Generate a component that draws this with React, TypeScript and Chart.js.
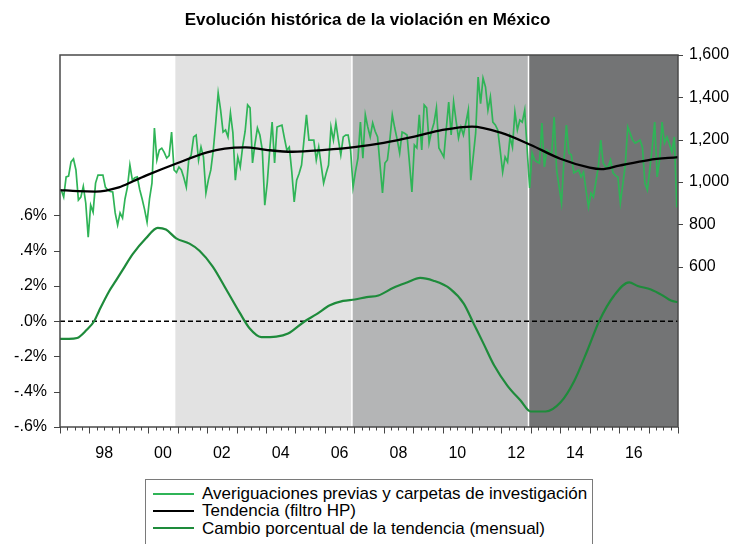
import React, { useEffect, useRef } from "react";
import { Chart, registerables } from "chart.js";

Chart.register(...registerables);

// ---------------- DATA ----------------
const START_YEAR = 1997; // monthly series, Jan 1997 - Dec 2017

// Averiguaciones previas y carpetas de investigación (monthly, right axis)
const averiguaciones = [
  962, 929, 1024, 1028, 1095, 1109, 1057, 915, 929, 980, 901, 740, // 1997
  891, 858, 995, 1033, 1033, 1033, 976, 962, 955, 953, 854, 797, // 1998
  854, 830, 920, 976, 1080, 1009, 1020, 1024, 965, 920, 870, 811, // 1999
  920, 995, 1255, 1104, 1151, 1160, 1140, 1113, 1125, 1236, 1057, 1045, // 2000
  1071, 1057, 1020, 976, 1104, 1128, 1213, 1222, 1104, 1165, 1118, 948, // 2001
  1010, 1057, 1151, 1280, 1420, 1340, 1236, 1246, 1213, 1326, 1232, 1009, // 2002
  1118, 1071, 1170, 1240, 1364, 1350, 1090, 1180, 1255, 1222, 1151, 891, // 2003
  995, 1150, 1283, 1090, 1260, 1265, 1269, 1208, 1151, 1165, 1050, 906, // 2004
  1009, 1040, 1080, 1200, 1317, 1198, 1198, 1198, 1104, 1165, 1080, 995, // 2005
  1040, 1080, 1260, 1198, 1279, 1200, 1128, 1213, 1222, 1222, 1151, 976, // 2006
  1050, 1113, 1283, 1113, 1317, 1260, 1213, 1279, 1240, 1213, 1080, 948, // 2007
  1090, 1104, 1200, 1317, 1255, 1200, 1137, 1236, 1230, 1222, 1090, 953, // 2008
  1175, 1161, 1317, 1151, 1364, 1350, 1184, 1240, 1279, 1350, 1161, 1140, // 2009
  1118, 1250, 1378, 1222, 1378, 1290, 1208, 1260, 1222, 1280, 1340, 1009, // 2010
  1120, 1232, 1496, 1370, 1491, 1449, 1340, 1402, 1283, 1270, 1246, 1150, // 2011
  1047, 1118, 1095, 1213, 1165, 1331, 1246, 1293, 1283, 1340, 1151, 972, // 2012
  1137, 1104, 1095, 1090, 1279, 1071, 1151, 1140, 1137, 1307, 1057, 980, // 2013
  901, 1104, 1269, 1137, 1128, 1043, 1050, 1057, 1024, 1047, 960, 882, // 2014
  948, 929, 1000, 1071, 1198, 1090, 1071, 1071, 1104, 1043, 1030, 1024, // 2015
  901, 990, 1080, 1260, 1230, 1198, 1184, 1190, 1198, 1165, 995, 962, // 2016
  1060, 1165, 1283, 1024, 1104, 1283, 1184, 1213, 1180, 1142, 1213, 880, // 2017
];

// Tendencia (filtro HP) – read at these dates (right axis)
const trendDates = [
  1997.0, 1997.6, 1998.2, 1999.0, 1999.5, 2000.0, 2001.0, 2002.0, 2002.6, 2003.3,
  2004.0, 2004.9, 2006.0, 2007.0, 2008.0, 2009.0, 2010.0, 2011.0, 2012.0, 2013.0,
  2014.0, 2015.0, 2015.4, 2016.0, 2017.0, 2018.0,
];
const trendValues = [
  962, 957, 955, 975, 1005, 1035, 1090, 1140, 1158, 1164,
  1152, 1143, 1152, 1165, 1185, 1213, 1246, 1262, 1232, 1175,
  1110, 1068, 1061, 1078, 1104, 1118,
];

// Cambio porcentual de la tendencia (mensual), in % (left axis)
const pctDates = [
  1997.0, 1997.3, 1997.58, 1997.9, 1998.16, 1998.33, 1998.67, 1998.9, 1999.2, 1999.47,
  1999.92, 2000.32, 2000.6, 2000.95, 2001.4, 2001.74, 2002.19, 2002.65, 2003.1, 2003.44,
  2003.84, 2004.35, 2004.75, 2005.32, 2005.72, 2006.17, 2006.62, 2007.02, 2007.42, 2007.82,
  2008.33, 2008.79, 2009.24, 2009.69, 2010.26, 2010.72, 2011.06, 2011.4, 2011.75, 2012.2,
  2012.65, 2012.99, 2013.5, 2014.01, 2014.47, 2014.92, 2015.32, 2015.83, 2016.34, 2016.63,
  2017.08, 2017.48, 2017.76, 2017.99,
];
const pctValues = [
  -0.1, -0.1, -0.095, -0.05, 0.0, 0.06, 0.17, 0.23, 0.31, 0.38,
  0.47, 0.53, 0.52, 0.47, 0.44, 0.4, 0.31, 0.18, 0.05, -0.04,
  -0.09, -0.087, -0.07, 0.0, 0.04, 0.09, 0.115, 0.123, 0.137, 0.146,
  0.19, 0.22, 0.246, 0.23, 0.184, 0.1, -0.015, -0.13, -0.25, -0.365,
  -0.45, -0.512, -0.512, -0.46, -0.34, -0.166, 0.0, 0.146, 0.22, 0.2,
  0.18, 0.146, 0.117, 0.108,
];

// Shaded periods (sexenios)
const periodStarts = [1997.0, 2000.92, 2006.92, 2012.92];
const periodColors = ["#ffffff", "#e2e2e2", "#b4b5b6", "#737475"];

// Axis ticks
const xLabelYears = [1998, 2000, 2002, 2004, 2006, 2008, 2010, 2012, 2014, 2016];
const xLabels = ["98", "00", "02", "04", "06", "08", "10", "12", "14", "16"];
const pctTicks = [-0.6, -0.4, -0.2, 0, 0.2, 0.4, 0.6];
const pctLabels = ["-.6%", "-.4%", "-.2%", ".0%", ".2%", ".4%", ".6%"];
const levelTicks = [600, 800, 1000, 1200, 1400, 1600];
const levelLabels = ["600", "800", "1,000", "1,200", "1,400", "1,600"];

const TITLE = "Evolución histórica de la violación en México";
const LEGEND = [
  { label: "Averiguaciones previas y carpetas de investigación", color: "#2fb457" },
  { label: "Tendencia (filtro HP)", color: "#000000" },
  { label: "Cambio porcentual de la tendencia (mensual)", color: "#1e8b3b" },
];

const FONT = "'Liberation Sans', Arial, Helvetica, sans-serif";

const eviewsPlugin = {
  id: "eviewsDecor",
  beforeDatasetsDraw(chart: any) {
    const { ctx, chartArea: a, scales } = chart;
    const x = scales.x;
    ctx.save();
    for (let i = 0; i < periodStarts.length; i++) {
      const x0 = Math.max(a.left, x.getPixelForValue(periodStarts[i]));
      const x1 = i + 1 < periodStarts.length ? x.getPixelForValue(periodStarts[i + 1]) : a.right;
      ctx.fillStyle = periodColors[i];
      ctx.fillRect(x0, a.top, x1 - x0, a.bottom - a.top);
    }
    ctx.strokeStyle = "#ffffff";
    ctx.lineWidth = 1.5;
    for (let i = 2; i < periodStarts.length; i++) {
      const px = x.getPixelForValue(periodStarts[i]);
      ctx.beginPath();
      ctx.moveTo(px, a.top);
      ctx.lineTo(px, a.bottom);
      ctx.stroke();
    }
    const y0 = scales.yL.getPixelForValue(0);
    ctx.setLineDash([5, 3]);
    ctx.strokeStyle = "#000";
    ctx.lineWidth = 1.5;
    ctx.beginPath();
    ctx.moveTo(a.left, y0);
    ctx.lineTo(a.right, y0);
    ctx.stroke();
    ctx.restore();
  },
  afterDraw(chart: any) {
    const { ctx, chartArea: a, scales } = chart;
    ctx.save();
    ctx.strokeStyle = "#4a4a4a";
    ctx.lineWidth = 1.5;
    ctx.strokeRect(a.left, a.top, a.right - a.left, a.bottom - a.top);
    ctx.lineWidth = 1;
    ctx.strokeStyle = "#444";
    // x ticks: quarterly minor, yearly major
    const x = scales.x;
    for (let y = Math.ceil(x.min); y <= x.max; y++) {
      for (let q = 0; q < 4; q++) {
        const v = y + q / 4;
        if (v > x.max) break;
        const px = Math.round(x.getPixelForValue(v)) + 0.5;
        const len = q === 0 ? 6.5 : 3.5;
        ctx.beginPath();
        ctx.moveTo(px, a.bottom);
        ctx.lineTo(px, a.bottom + len);
        ctx.stroke();
      }
    }
    for (const v of pctTicks) {
      const py = Math.round(scales.yL.getPixelForValue(v)) + 0.5;
      ctx.beginPath();
      ctx.moveTo(a.left, py);
      ctx.lineTo(a.left - 6, py);
      ctx.stroke();
    }
    for (const v of levelTicks) {
      const py = Math.round(scales.yR.getPixelForValue(v)) + 0.5;
      ctx.beginPath();
      ctx.moveTo(a.right, py);
      ctx.lineTo(a.right + 5, py);
      ctx.stroke();
    }
    ctx.restore();
  },
};

export default function App() {
  const canvasRef = useRef<HTMLCanvasElement | null>(null);

  useEffect(() => {
    if (!canvasRef.current) return;
    Chart.defaults.font.family = FONT;
    Chart.defaults.color = "#000";

    const levelData = averiguaciones.map((v, i) => ({ x: START_YEAR + (i + 0.5) / 12, y: v }));
    const trendData = trendDates.map((d, i) => ({ x: d, y: trendValues[i] }));
    const pctData = pctDates.map((d, i) => ({ x: d, y: pctValues[i] }));

    const chart = new Chart(canvasRef.current, {
      type: "line",
      data: {
        datasets: [
          {
            label: LEGEND[1].label,
            data: trendData,
            yAxisID: "yR",
            borderColor: LEGEND[1].color,
            borderWidth: 2.3,
            pointRadius: 0,
            cubicInterpolationMode: "monotone",
            order: 0,
          },
          {
            label: LEGEND[2].label,
            data: pctData,
            yAxisID: "yL",
            borderColor: LEGEND[2].color,
            borderWidth: 2.2,
            pointRadius: 0,
            cubicInterpolationMode: "monotone",
            order: 1,
          },
          {
            label: LEGEND[0].label,
            data: levelData,
            yAxisID: "yR",
            borderColor: LEGEND[0].color,
            borderWidth: 1.7,
            pointRadius: 0,
            tension: 0,
            order: 2,
          },
        ],
      },
      options: {
        animation: false,
        responsive: false,
        devicePixelRatio: 1,
        layout: { padding: { top: 0, left: 0, right: 0, bottom: 0 } },
        plugins: {
          legend: { display: false },
          tooltip: { enabled: false },
          title: {
            display: true,
            text: TITLE,
            color: "#000",
            font: { family: FONT, size: 17, weight: "bold" },
            padding: { top: 10, bottom: 24.6 },
          },
        },
        scales: {
          x: {
            type: "linear",
            min: START_YEAR,
            max: START_YEAR + averiguaciones.length / 12,
            grid: { display: false, drawTicks: false },
            border: { display: false },
            afterBuildTicks: (scale: any) => {
              scale.ticks = xLabelYears.map((y) => ({ value: y + 0.5 }));
            },
            afterFit: (scale: any) => {
              scale.height = 117;
            },
            ticks: {
              autoSkip: false,
              maxRotation: 0,
              padding: 17,
              font: { size: 16, family: FONT },
              color: "#000",
              callback: (_v: any, i: number) => xLabels[i],
            },
          },
          yL: {
            type: "linear",
            position: "left",
            min: -0.6,
            max: 1.51,
            grid: { display: false, drawTicks: false },
            border: { display: false },
            afterBuildTicks: (scale: any) => {
              scale.ticks = pctTicks.map((v) => ({ value: v }));
            },
            afterFit: (scale: any) => {
              scale.width = 60;
            },
            ticks: {
              padding: 13,
              font: { size: 16, family: FONT },
              color: "#000",
              callback: (_v: any, i: number) => pctLabels[i],
            },
          },
          yR: {
            type: "linear",
            position: "right",
            min: -157,
            max: 1600,
            grid: { display: false, drawTicks: false },
            border: { display: false },
            afterBuildTicks: (scale: any) => {
              scale.ticks = levelTicks.map((v) => ({ value: v }));
            },
            afterFit: (scale: any) => {
              scale.width = 57;
            },
            ticks: {
              padding: 11,
              font: { size: 16, family: FONT },
              color: "#000",
              callback: (_v: any, i: number) => levelLabels[i],
            },
          },
        },
      },
      plugins: [eviewsPlugin],
    });
    return () => chart.destroy();
  }, []);

  return (
    <div style={{ position: "fixed", left: 0, top: 0, width: 735, height: 544, background: "#fff", overflow: "hidden" }}>
      <canvas ref={canvasRef} width={735} height={544} style={{ width: 735, height: 544, display: "block" }} />
      <div
        style={{
          position: "absolute",
          left: 145,
          top: 479,
          width: 446,
          height: 80,
          border: "1px solid #7a7a7a",
          background: "#fff",
          fontFamily: FONT,
          fontSize: 17,
          color: "#000",
        }}
      >
        {LEGEND.map((item, i) => (
          <div
            key={i}
            style={{ position: "absolute", left: 0, top: 5 + i * 17.3, height: 17.3, display: "flex", alignItems: "center", whiteSpace: "nowrap" }}
          >
            <span style={{ display: "inline-block", marginLeft: 7, width: 41, height: 0, borderTop: `2px solid ${item.color}` }} />
            <span style={{ marginLeft: 8, lineHeight: "17px" }}>{item.label}</span>
          </div>
        ))}
      </div>
    </div>
  );
}
